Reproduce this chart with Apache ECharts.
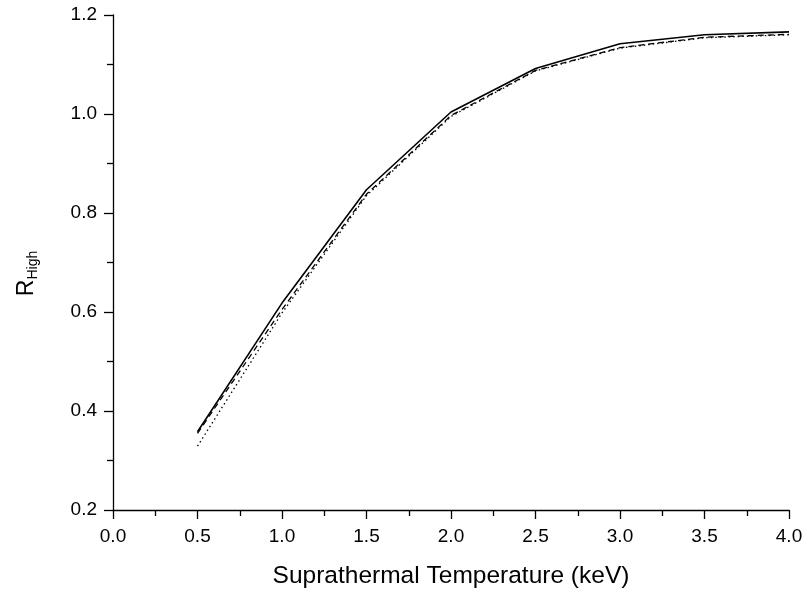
<!DOCTYPE html>
<html><head><meta charset="utf-8">
<script src="https://cdn.jsdelivr.net/npm/echarts@6/dist/echarts.min.js"></script>
<style>html,body{margin:0;padding:0;background:#fff}#c{width:805px;height:591px}</style>
</head><body><div id="c"></div>
<script>
const xValues = [0.5, 1.0, 1.5, 2.0, 2.5, 3.0, 3.5, 4.0];
const solidValues = [0.358, 0.618, 0.847, 1.004, 1.092, 1.142, 1.160, 1.166];
const dashedValues = [0.355, 0.605, 0.838, 0.997, 1.088, 1.134, 1.155, 1.161];
const dottedValues = [0.329, 0.598, 0.835, 0.995, 1.087, 1.133, 1.154, 1.160];

const chart = echarts.init(document.getElementById('c'));
const font = 'Liberation Sans, Arial, sans-serif';
function pairs(v){ return xValues.map((x,i)=>[x,v[i]]); }
chart.setOption({
  animation:false,
  backgroundColor:'#fff',
  grid:{left:113,right:16,top:15,bottom:81,containLabel:false,outerBoundsMode:'none'},
  xAxis:{type:'value',min:0,max:4,interval:0.5,
    name:'Suprathermal Temperature (keV)',nameLocation:'middle',nameGap:54,
    nameTextStyle:{fontFamily:font,fontSize:24.5,color:'#000'},
    axisLine:{lineStyle:{color:'#000',width:1.3}},
    axisTick:{inside:false,length:9,lineStyle:{color:'#000',width:1.3}},
    minorTick:{show:true,splitNumber:2,length:6,lineStyle:{color:'#000',width:1.3}},
    splitLine:{show:false},
    axisLabel:{fontFamily:font,fontSize:19,color:'#000',margin:17,formatter:v=>v.toFixed(1)}},
  yAxis:{type:'value',min:0.2,max:1.2,interval:0.2,
    name:'{r|R}{s|High}',nameLocation:'middle',nameGap:73,nameRotate:90,
    nameTextStyle:{padding:[0,0,0,-22],rich:{r:{fontFamily:font,fontSize:23,color:'#000'},s:{fontFamily:font,fontSize:14,color:'#000',padding:[12,0,0,0]}}},
    axisLine:{lineStyle:{color:'#000',width:1.3}},
    axisTick:{inside:false,length:9,lineStyle:{color:'#000',width:1.3}},
    minorTick:{show:true,splitNumber:2,length:6,lineStyle:{color:'#000',width:1.3}},
    splitLine:{show:false},
    axisLabel:{fontFamily:font,fontSize:19,color:'#000',margin:16,formatter:v=>v.toFixed(1)}},
  series:[
    {type:'line',data:pairs(dottedValues),symbol:'none',lineStyle:{color:'#000',width:1.3,type:[1.5,3]}},
    {type:'line',data:pairs(dashedValues),symbol:'none',lineStyle:{color:'#000',width:1.3,type:[6,4]}},
    {type:'line',data:pairs(solidValues),symbol:'none',lineStyle:{color:'#000',width:1.6,type:'solid'}}
  ]
});
</script></body></html>
